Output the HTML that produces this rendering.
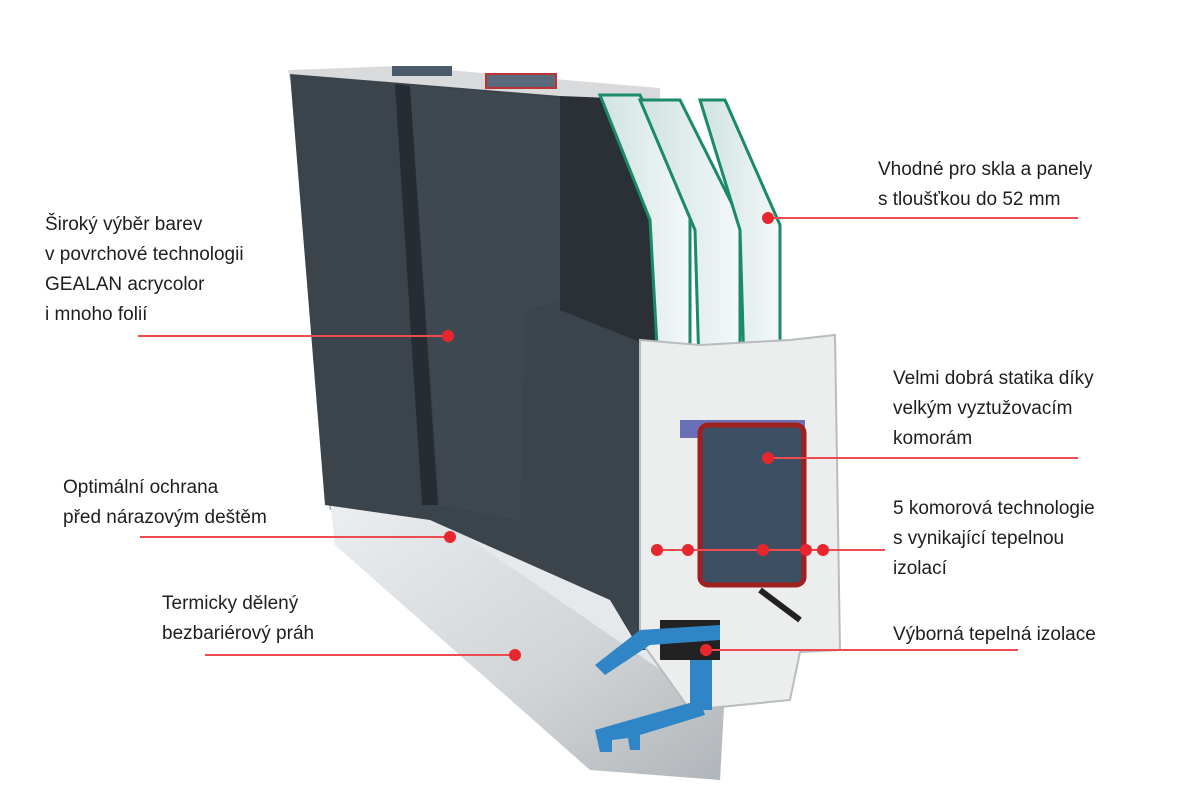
<!DOCTYPE html>
<html><head><meta charset="utf-8"><style>
html,body{margin:0;padding:0;background:#fff;}
svg{display:block;}
text{font-family:"Liberation Sans",sans-serif;font-size:19px;fill:#1e1e1e;}
</style></head><body>
<svg width="1200" height="807" viewBox="0 0 1200 807" xmlns="http://www.w3.org/2000/svg">
<defs>
<linearGradient id="al" x1="0" y1="0" x2="1" y2="1"><stop offset="0" stop-color="#eceef0"/><stop offset="0.6" stop-color="#d0d4d7"/><stop offset="1" stop-color="#b0b5b9"/></linearGradient>
<linearGradient id="gl" x1="0" y1="0" x2="1" y2="0"><stop offset="0" stop-color="#cfe3e0"/><stop offset="1" stop-color="#f4f8f8"/></linearGradient>
</defs>
<polygon points="288,70 400,66 660,88 660,100 410,92 290,80" fill="#d8dadb"/>
<rect x="392" y="66" width="60" height="10" fill="#4a5a6a"/>
<rect x="486" y="74" width="70" height="14" fill="#5b6b7b" stroke="#b33" stroke-width="2"/>
<polygon points="322,470 440,480 440,530 330,510" fill="#9ea2a5"/>
<polygon points="330,500 445,505 725,690 720,780 590,770 335,545" fill="url(#al)"/>
<polygon points="420,505 470,505 720,670 690,690" fill="#e6e9eb"/>
<polygon points="290,74 560,96 560,300 640,330 670,360 670,650 640,650 610,600 430,520 325,505" fill="#3b434b"/>
<polygon points="395,84 410,86 438,505 422,505" fill="#262c31"/>
<polygon points="410,86 560,98 560,300 525,310 520,520 440,505" fill="#3f4850"/>
<polygon points="560,96 660,100 680,380 660,350 560,310" fill="#2a3035"/>
<polygon points="600,95 640,95 690,200 690,400 660,400 650,220" fill="url(#gl)" stroke="#1a8a6a" stroke-width="3"/>
<polygon points="640,100 680,100 740,220 740,400 700,400 695,230" fill="url(#gl)" stroke="#1a8a6a" stroke-width="3"/>
<polygon points="700,100 725,100 780,225 780,400 745,400 740,230" fill="url(#gl)" stroke="#1a8a6a" stroke-width="3"/>
<rect x="690" y="380" width="80" height="22" fill="#c8a860"/>
<polygon points="640,340 700,345 790,340 835,335 840,650 800,652 790,700 690,710 640,640" fill="#eceeee" stroke="#b8bcbe" stroke-width="2"/>
<rect x="680" y="420" width="125" height="18" fill="#6a70b8"/>
<rect x="700" y="425" width="104" height="160" rx="8" fill="#3d4f63" stroke="#a02020" stroke-width="5"/>
<line x1="760" y1="590" x2="800" y2="620" stroke="#222" stroke-width="6"/>
<rect x="660" y="620" width="60" height="40" fill="#222"/>
<path d="M595,665 L640,630 L720,625 L720,640 L650,645 L605,675 Z" fill="#2f85c6"/>
<path d="M595,730 L700,700 L705,715 L640,735 L640,750 L630,750 L628,738 L612,740 L612,752 L600,752 Z" fill="#2f85c6"/>
<rect x="690" y="660" width="22" height="50" fill="#2f85c6"/>
<g stroke="#ef4a4f" stroke-width="2">
<line x1="138" y1="336" x2="448" y2="336"/>
<line x1="140" y1="537" x2="450" y2="537"/>
<line x1="205" y1="655" x2="515" y2="655"/>
<line x1="768" y1="218" x2="1078" y2="218"/>
<line x1="768" y1="458" x2="1078" y2="458"/>
<line x1="657" y1="550" x2="885" y2="550"/>
<line x1="706" y1="650" x2="1018" y2="650"/>
</g>
<g fill="#e8262e">
<circle cx="448" cy="336" r="6"/><circle cx="450" cy="537" r="6"/><circle cx="515" cy="655" r="6"/>
<circle cx="768" cy="218" r="6"/><circle cx="768" cy="458" r="6"/>
<circle cx="657" cy="550" r="6"/><circle cx="688" cy="550" r="6"/><circle cx="763" cy="550" r="6"/><circle cx="806" cy="550" r="6"/><circle cx="823" cy="550" r="6"/>
<circle cx="706" cy="650" r="6"/>
</g>
<text x="45" y="230">Široký výběr barev</text>
<text x="45" y="260">v povrchové technologii</text>
<text x="45" y="290">GEALAN acrycolor</text>
<text x="45" y="320">i mnoho folií</text>
<text x="63" y="493">Optimální ochrana</text>
<text x="63" y="523">před nárazovým deštěm</text>
<text x="162" y="609">Termicky dělený</text>
<text x="162" y="639">bezbariérový práh</text>
<text x="878" y="175">Vhodné pro skla a panely</text>
<text x="878" y="205">s tloušťkou do 52 mm</text>
<text x="893" y="384">Velmi dobrá statika díky</text>
<text x="893" y="414">velkým vyztužovacím</text>
<text x="893" y="444">komorám</text>
<text x="893" y="514">5 komorová technologie</text>
<text x="893" y="544">s vynikající tepelnou</text>
<text x="893" y="574">izolací</text>
<text x="893" y="640">Výborná tepelná izolace</text>
</svg>
</body></html>
